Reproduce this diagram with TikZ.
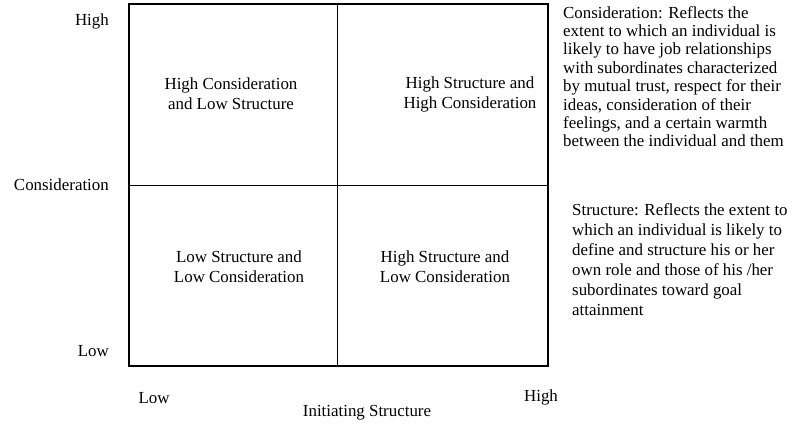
\documentclass[tikz,border=0pt]{standalone}
\usepackage{fontspec}
\setmainfont{Liberation Serif}
\usetikzlibrary{positioning}
\tikzset{
  lbl/.style={inner sep=0pt,font=\fontsize{16.9}{20}\selectfont},
  cell/.style={lbl,align=center},
  axis/.style={lbl,anchor=east},
  note/.style={lbl,align=left,anchor=north west},
}

\begin{document}
\begin{tikzpicture}[x=1pt,y=-1pt]
  \useasboundingbox (0,0) rectangle (794,425);
  % grid of the four styles
  \coordinate (nw) at (129,4);
  \coordinate (se) at (548,366);
  \coordinate (mid) at (337,185);
  \draw[line width=1pt] (nw |- mid) -- (se |- mid) (mid |- nw) -- (mid |- se);
  \draw[line width=2.3pt] (nw) rectangle (se);
  \node[cell] (hclo) at (231,94) {High Consideration\\and Low Structure};
  \node[cell] (hshc) at (470,94) {High Structure and\\High Consideration};
  \node[cell] (lslc) at (239,267) {Low Structure and\\Low Consideration};
  \node[cell] (hslc) at (445,267) {High Structure and\\Low Consideration};
  % axis labels
  \node[axis] (yhigh) at (109,21) {High};
  \node[axis] (ytitle) at (109,185) {Consideration};
  \node[axis] (ylow) at (109,351) {Low};
  \node[lbl] (xlow) at (154,398) {Low};
  \node[lbl] (xhigh) at (541,397) {High};
  \node[lbl] (xtitle) at (367,413) {Initiating Structure};
  % definitions
  \node[note,font=\fontsize{16.9}{18.4}\selectfont] (defcon) at (563,6) {Consideration: Reflects the\\extent to which an individual  is\\likely to have job relationships\\with subordinates characterized\\by mutual trust, respect for their\\ideas, consideration of their\\feelings, and a certain warmth\\between the individual and them};
  \node[note] (defstr) at (572,203) {Structure: Reflects the extent to\\which an individual  is likely to\\define and structure his or her\\own role and those of his /her\\subordinates toward goal\\attainment};
\end{tikzpicture}
\end{document}
